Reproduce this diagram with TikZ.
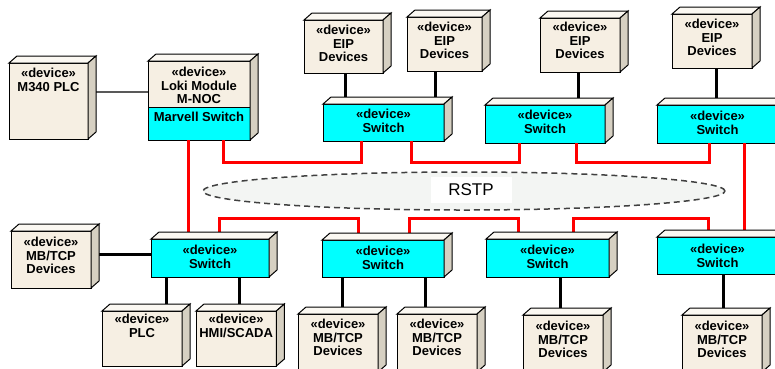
\documentclass[tikz,border=0pt]{standalone}
\usepackage{fontspec}
\setmainfont{Liberation Sans}
\usetikzlibrary{shapes.geometric}

\definecolor{devfront}{HTML}{F6EFE3}
\definecolor{devtop}{HTML}{FBF8F2}
\definecolor{devside}{HTML}{D6D0C2}
\definecolor{swfront}{HTML}{00FFFF}
\definecolor{ringfill}{HTML}{F3F5F3}

% #3 is the baseline of the last text line, measured from the top edge
\tikzset{
  dev/.style n args={3}{draw=black, line width=1pt, fill=devfront, anchor=north west,
    inner ysep=0pt, outer sep=0pt, align=center,
    font=\bfseries\fontsize{13}{13.5}\selectfont,
    minimum width=#1, minimum height=#2, text height=#3, text depth=#2-#3},
  switch/.style={fill=swfront},
  face/.style={draw=black, line width=1pt},
  link/.style={line width=3pt, black},
  redlink/.style={line width=3pt, red},
  thinlink/.style={line width=1.4pt, black!65},
  ring/.style={ellipse, draw=black!75, dashed, dash pattern=on 6pt off 4pt,
    line width=1.5pt, fill=ringfill, minimum width=522, minimum height=38}
}

\begin{document}
\begin{tikzpicture}[x=1pt,y=-1pt]
\useasboundingbox (0,0) rectangle (775,368);
\clip (0,0) rectangle (775,368);
\fill[white] (0,0) rectangle (775,368);

% RSTP ring
\node[ring] (rstpring) at (464,191) {};
\node[fill=white, minimum width=81, minimum height=26, inner sep=0pt,
  font=\fontsize{17}{20}\selectfont] (rstp) at (471,190) {RSTP};

% upper row
\node[dev={79}{76}{28}] (m340) at (9,63) {«device»\\M340 PLC};
\node[dev={102}{79}{42.5}] (loki) at (148,61) {«device»\\Loki Module\\M-NOC};
\node[dev={102}{33}{14.5}, switch] (marvell) at (148,107) {Marvell Switch};
\node[dev={79}{53}{41.5}] (eip1) at (304,20) {«device»\\EIP\\Devices};
\node[dev={75}{54}{41.5}] (eip2) at (407,17) {«device»\\EIP\\Devices};
\node[dev={80}{54}{40.5}] (eip3) at (540,18) {«device»\\EIP\\Devices};
\node[dev={80}{54}{41.5}] (eip4) at (672,14) {«device»\\EIP\\Devices};
\node[dev={121}{37}{28}, switch] (sw1) at (323,104) {«device»\\Switch};
\node[dev={120}{38}{28}, switch] (sw2) at (485,105) {«device»\\Switch};
\node[dev={121}{38}{29}, switch] (sw3) at (657,105) {«device»\\Switch};

% lower row
\node[dev={80}{57}{42.5}] (mba) at (11,231) {«device»\\MB/TCP\\Devices};
\node[dev={118}{38}{29}, switch] (swa) at (151,239) {«device»\\Switch};
\node[dev={122}{37}{29}, switch] (swb) at (322,240) {«device»\\Switch};
\node[dev={123}{38}{29}, switch] (swc) at (486,239) {«device»\\Switch};
\node[dev={121}{37}{30}, switch] (swd) at (657,237) {«device»\\Switch};
\node[dev={80}{55}{26}] (plc) at (102,311) {«device»\\PLC};
\node[dev={79}{55}{26}] (hmi) at (196,311) {«device»\\HMI/SCADA};
\node[dev={80}{58}{41.5}] (mbb1) at (298,314) {«device»\\MB/TCP\\Devices};
\node[dev={80}{58}{41.5}] (mbb2) at (397,314) {«device»\\MB/TCP\\Devices};
\node[dev={80}{57}{42.5}] (mbc) at (523,315) {«device»\\MB/TCP\\Devices};
\node[dev={80}{57}{42.5}] (mbd) at (682,315) {«device»\\MB/TCP\\Devices};

% device links
\draw[thinlink] ([yshift=9pt]m340.east) -- ([yshift=8.5pt]loki.west);
\draw[link] ([xshift=41pt]eip1.south west) -- ([xshift=22pt]sw1.north west);
\draw[link] ([xshift=28pt]eip2.south west) -- ([xshift=112pt]sw1.north west);
\draw[link] ([xshift=38pt]eip3.south west) -- ([xshift=93pt]sw2.north west);
\draw[link] ([xshift=44pt]eip4.south west) -- ([xshift=59pt]sw3.north west);
\draw[link] ([yshift=5.5pt]mba.east) -- ([yshift=4pt]swa.west);
\draw[link] ([xshift=15pt]swa.south west) -- ([xshift=64pt]plc.north west);
\draw[link] ([xshift=88pt]swa.south west) -- ([xshift=43pt]hmi.north west);
\draw[link] ([xshift=20pt]swb.south west) -- ([xshift=44pt]mbb1.north west);
\draw[link] ([xshift=103pt]swb.south west) -- ([xshift=28pt]mbb2.north west);
\draw[link] ([xshift=74pt]swc.south west) -- ([xshift=37pt]mbc.north west);
\draw[link] ([xshift=66pt]swd.south west) -- ([xshift=41pt]mbd.north west);

% ring links
\draw[redlink] ([xshift=75pt]marvell.south west) -- ++(0,22) -| ([xshift=38pt]sw1.south west);
\draw[redlink] ([xshift=88pt]sw1.south west) -- ++(0,21) -| ([xshift=34pt]sw2.south west);
\draw[redlink] ([xshift=91pt]sw2.south west) -- ++(0,19) -| ([xshift=52pt]sw3.south west);
\draw[redlink] ([xshift=87pt]sw3.south west) -- ([xshift=87pt]swd.north west);
\draw[redlink] ([xshift=40pt]marvell.south west) -- ([xshift=37pt]swa.north west);
\draw[redlink] ([xshift=68pt]swa.north west) -- ++(0,-21) -| ([xshift=36pt]swb.north west);
\draw[redlink] ([xshift=87pt]swb.north west) -- ++(0,-22) -| ([xshift=32pt]swc.north west);
\draw[redlink] ([xshift=87pt]swc.north west) -- ++(0,-21) -| ([xshift=51pt]swd.north west);

% top and side faces of every box
\foreach \n in {m340,loki,eip1,eip2,eip3,eip4,sw1,sw2,sw3,mba,swa,swb,swc,swd,plc,hmi,mbb1,mbb2,mbc,mbd}{
  \draw[face, fill=devtop] (\n.north west) -- ++(8,-7) -- ([shift={(8,-7)}]\n.north east)
    -- (\n.north east) -- cycle;
  \draw[face, fill=devside] (\n.north east) -- ++(8,-7) -- ([shift={(8,-7)}]\n.south east)
    -- (\n.south east) -- cycle;
}
\end{tikzpicture}
\end{document}
